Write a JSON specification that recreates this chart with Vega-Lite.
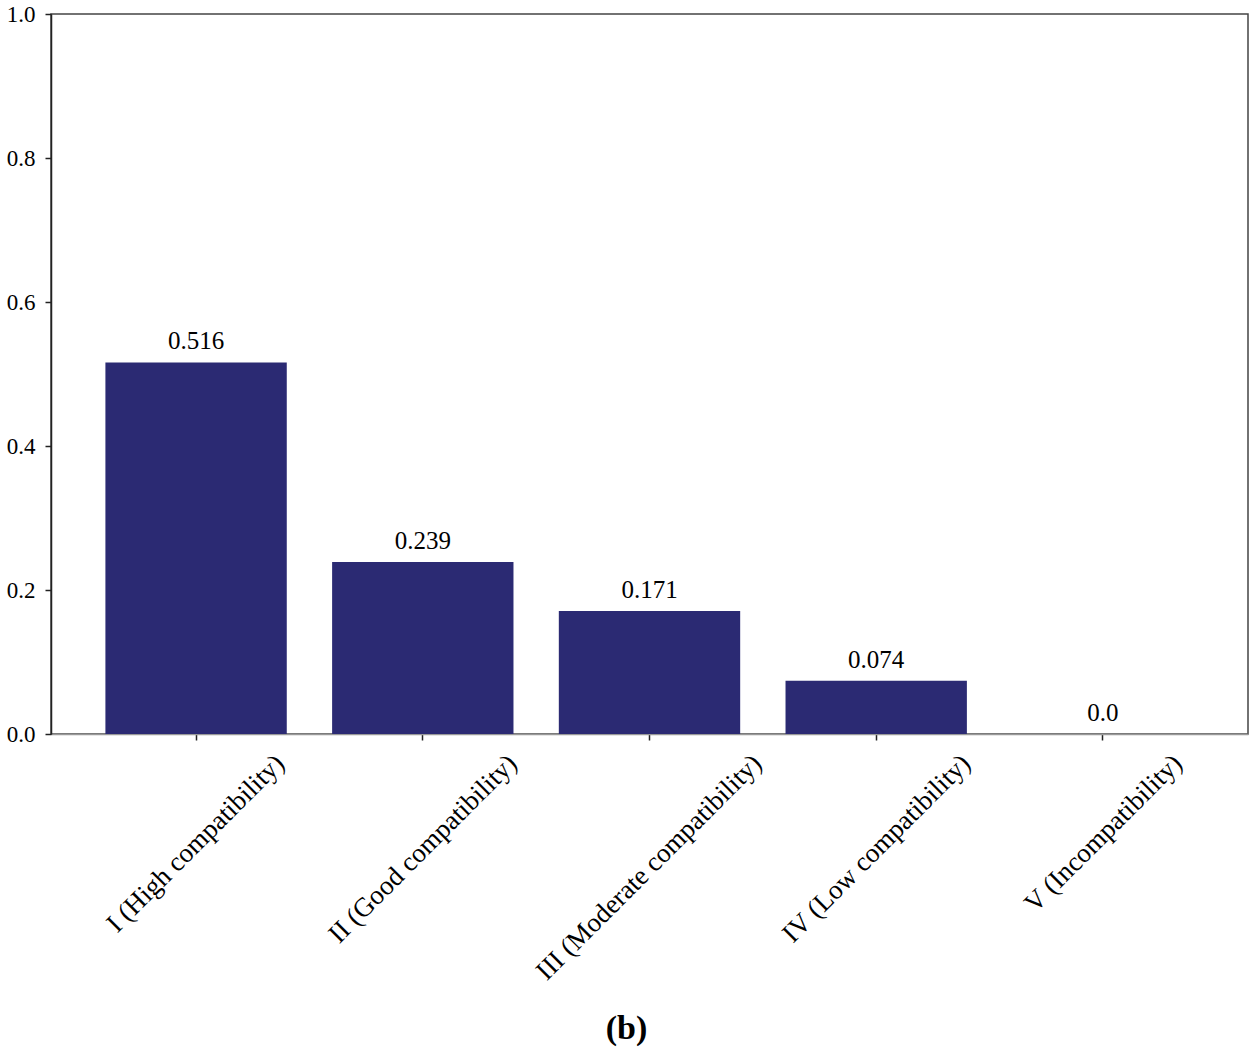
{
  "$schema": "https://vega.github.io/schema/vega-lite/v6.json",
  "autosize": "none",
  "width": 1197,
  "height": 720,
  "padding": {"left": 51, "top": 14, "right": 5, "bottom": 317},
  "background": "white",
  "title": {
    "text": "(b)",
    "orient": "bottom",
    "anchor": "middle",
    "baseline": "top",
    "offset": 28,
    "dx": -23,
    "font": "Liberation Serif",
    "fontSize": 34,
    "fontWeight": "bold",
    "color": "black"
  },
  "config": {
    "view": {"stroke": "#444444", "strokeWidth": 1.5},
    "font": "Liberation Serif"
  },
  "data": {
    "values": [
      {"grade": "I (High compatibility)", "value": 0.516, "label": "0.516"},
      {"grade": "II (Good compatibility)", "value": 0.239, "label": "0.239"},
      {"grade": "III (Moderate compatibility)", "value": 0.171, "label": "0.171"},
      {"grade": "IV (Low compatibility)", "value": 0.074, "label": "0.074"},
      {"grade": "V (Incompatibility)", "value": 0.0, "label": "0.0"}
    ]
  },
  "encoding": {
    "x": {
      "field": "grade",
      "type": "nominal",
      "sort": null,
      "scale": {"paddingInner": 0.2, "paddingOuter": 0.24},
      "axis": {
        "title": null,
        "labelAngle": -45,
        "labelAlign": "right",
        "labelBaseline": "middle",
        "labelFont": "Liberation Serif",
        "labelFontSize": 27,
        "labelColor": "black",
        "labelLimit": 0,
        "labelOverlap": false,
        "labelPadding": 19,
        "labelOffset": {
          "condition": [
            {"test": "datum.value == 'I (High compatibility)'", "value": 84},
            {"test": "datum.value == 'II (Good compatibility)'", "value": 90},
            {"test": "datum.value == 'III (Moderate compatibility)'", "value": 108},
            {"test": "datum.value == 'IV (Low compatibility)'", "value": 90}
          ],
          "value": 75
        },
        "tickSize": 6,
        "tickColor": "#222222",
        "tickWidth": 1.5,
        "domainColor": "#999999",
        "domainWidth": 1.5
      }
    },
    "y": {
      "field": "value",
      "type": "quantitative",
      "scale": {"domain": [0, 1], "nice": false},
      "axis": {
        "title": null,
        "values": [0, 0.2, 0.4, 0.6, 0.8, 1.0],
        "format": ".1f",
        "grid": false,
        "labelFont": "Liberation Serif",
        "labelFontSize": 23,
        "labelColor": "black",
        "labelPadding": 10,
        "tickSize": 6,
        "tickColor": "#222222",
        "tickWidth": 1.5,
        "domainColor": "#222222",
        "domainWidth": 1.5
      }
    }
  },
  "layer": [
    {
      "mark": {"type": "bar", "color": "#2b2a73"}
    },
    {
      "mark": {
        "type": "text",
        "baseline": "alphabetic",
        "dy": -13,
        "font": "Liberation Serif",
        "fontSize": 25,
        "color": "black"
      },
      "encoding": {"text": {"field": "label"}}
    }
  ]
}
